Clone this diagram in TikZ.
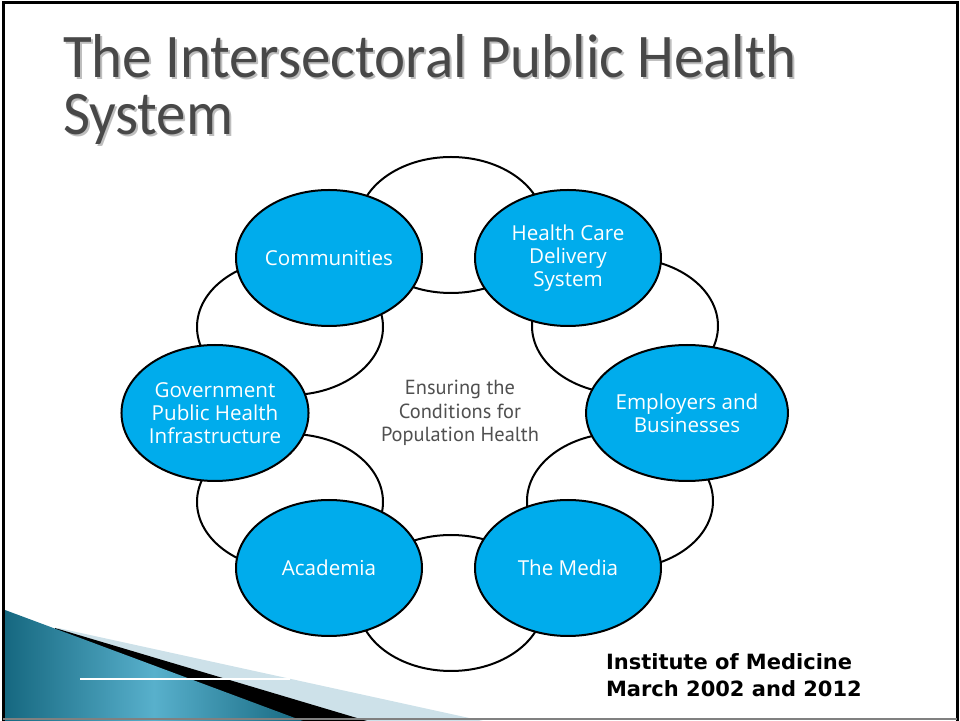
\documentclass[tikz,border=0pt]{standalone}
\usepackage{fontspec}
\setmainfont{Carlito}
\newfontfamily\titlefont[FakeStretch=0.95]{Carlito}
\newfontfamily\sectorfont{Open Sans}
\newfontfamily\hubfont{PT Sans}
\newfontfamily\sourcefont{DejaVu Sans}
\usetikzlibrary{shapes.geometric}

\definecolor{sectorblue}{RGB}{0,172,236}
\definecolor{titlegray}{RGB}{72,72,72}
\definecolor{shadowgray}{RGB}{190,190,190}
\definecolor{hubgray}{RGB}{80,80,80}
\definecolor{tealdark}{RGB}{22,104,128}
\definecolor{teallight}{RGB}{88,176,204}
\definecolor{palewedge}{RGB}{205,225,233}

\begin{document}
\begin{tikzpicture}[x=0.5pt,y=-0.5pt,line width=1pt,
    sector node/.style={ellipse,draw=black,fill=sectorblue,minimum width=93pt,minimum height=68pt,
      inner sep=0pt,align=center,text=white,font=\sectorfont\fontsize{10.3}{11.6}\selectfont},
    link node/.style={ellipse,draw=black,fill=white,minimum width=93pt,minimum height=68pt},
    title text/.style={anchor=base west,inner sep=0pt,font=\titlefont\fontsize{31}{31}\selectfont}]

  \useasboundingbox (0,0) rectangle (960,721);

  % corner wedge
  \fill[palewedge] (58,628) -- (483,721) -- (58,721) -- cycle;
  \fill[black] (55,628) -- (367,721) -- (55,721) -- cycle;
  \shade[left color=tealdark,right color=tealdark,middle color=teallight]
    (5,610) -- (303,721) -- (5,721) -- cycle;
  \draw[white,line width=0.6pt] (80,679) -- (290,679);

  % slide frame
  \draw[line width=1.5pt] (3,721) -- (3,3) -- (957,3) -- (957,721);
  \draw[gray,line width=0.8pt] (3,719) -- (957,719);

  % title
  \node[title text,text=shadowgray] (titleshadow) at (64,80) {The Intersectoral Public Health};
  \node[title text,text=titlegray]  (title) at (62,78) {The Intersectoral Public Health};
  \node[title text,text=shadowgray] (titleshadowb) at (64,137) {System};
  \node[title text,text=titlegray]  (titleb) at (62,135) {System};

  % linking circles
  \node[link node] (wtop) at (451,225) {};
  \node[link node] (wul)  at (290,327) {};
  \node[link node] (wur)  at (625,326) {};
  \node[link node] (wll)  at (290,502) {};
  \node[link node] (wlr)  at (620,501) {};
  \node[link node] (wbot) at (451,603) {};

  % sectors
  \node[sector node] (comm)  at (329,258) {Communities};
  \node[sector node] (hcare) at (568,258) {Health Care\\Delivery\\System};
  \node[sector node] (gov)   at (215,413) {Government\\Public Health\\Infrastructure};
  \node[sector node] (empl)  at (687,413) {Employers and\\Businesses};
  \node[sector node] (acad)  at (329,568) {Academia};
  \node[sector node] (media) at (568,568) {The Media};

  \node[align=center,text=hubgray,font=\hubfont\fontsize{10.2}{11.6}\selectfont] (hub) at (460,413)
    {Ensuring the\\Conditions for\\Population Health};

  % source
  \node[anchor=base west,inner sep=0pt,align=left,font=\sourcefont\bfseries\fontsize{10.5}{13.5}\selectfont] (source) at (605,697)
    {Institute of Medicine\\March 2002 and 2012};
\end{tikzpicture}
\end{document}
